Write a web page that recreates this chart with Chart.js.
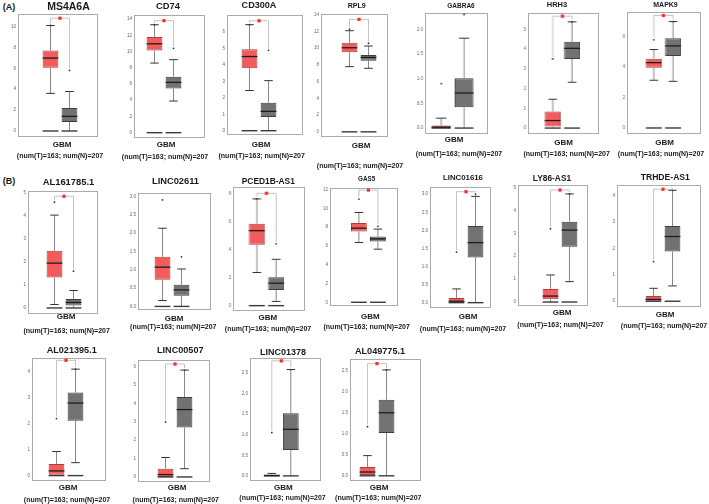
<!DOCTYPE html>
<html>
<head>
<meta charset="utf-8">
<script src="https://cdn.jsdelivr.net/npm/chart.js@4.4.0/dist/chart.umd.min.js"></script>
<style>
body{margin:0;background:#fff;width:709px;height:504px;position:relative;overflow:hidden;font-family:"Liberation Sans",Arial,sans-serif;}
.frame{position:absolute;border:1px solid #ababab;box-sizing:border-box;}
.wrap{position:absolute;}
.txt{position:absolute;white-space:nowrap;transform:translate(-50%,-50%);font-weight:bold;color:#1a1a1a;line-height:1;}
</style>
</head>
<body>
<script>
// gene names, one panel each
const genes = ["MS4A6A","CD74","CD300A","RPL9","GABRA6","HRH3","MAPK9",
  "AL161785.1","LINC02611","PCED1B-AS1","GAS5","LINC01616","LY86-AS1","TRHDE-AS1",
  "AL021395.1","LINC00507","LINC01378","AL049775.1"];

// tumour (T) box stats
const tQ1  = [6.06,10.12,3.81,9.51,0.00,0.08,3.97,1.32,0.73,4.34,7.54,0.00,0.12,0.02,0.03,0.00,0.00,0.02];
const tMed = [6.98,10.95,4.52,10.06,0.02,0.38,4.30,1.95,1.07,5.34,7.90,0.04,0.26,0.07,0.18,0.13,0.01,0.09];
const tQ3  = [7.71,11.79,4.96,10.66,0.05,0.84,4.56,2.49,1.35,5.83,8.44,0.13,0.57,0.20,0.45,0.45,0.03,0.21];
const tLo  = [3.60,8.58,2.45,7.80,0.00,0.00,3.14,0.15,0.16,2.36,6.37,0.00,0.00,0.00,0.00,0.00,0.00,0.00];
const tHi  = [10.1,13.3,6.46,12.1,0.20,1.46,5.16,4.04,2.13,7.60,9.57,0.38,1.18,0.49,0.93,1.06,0.06,0.48];
const tMax = [10.1,13.3,6.46,12.3,0.90,3.50,5.80,4.60,2.90,7.60,11.0,1.40,3.20,1.50,2.20,3.00,1.05,1.17];

// normal (N) box stats
const nQ1  = [0.86,5.45,0.84,8.50,0.42,3.50,4.74,0.11,0.29,1.12,6.47,1.25,2.41,1.88,2.12,2.69,0.63,1.02];
const nMed = [1.40,6.20,1.18,8.90,0.71,4.04,5.40,0.24,0.45,1.60,6.76,1.66,3.14,2.45,2.80,3.67,1.13,1.50];
const nQ3  = [2.19,6.90,1.70,9.19,1.01,4.37,5.90,0.39,0.59,2.02,7.00,2.12,3.51,2.85,3.21,4.36,1.52,1.81];
const nLo  = [0.00,3.90,0.05,7.60,0.00,2.32,3.07,0.00,0.00,0.30,5.66,0.00,0.89,0.58,0.50,0.45,0.00,0.00];
const nHi  = [3.78,9.00,3.05,10.27,1.82,5.38,7.00,0.76,1.02,3.30,7.80,2.94,4.72,4.20,4.11,5.82,2.58,2.52];
const nMax = [5.80,10.4,4.90,10.6,2.30,5.38,7.00,1.60,1.35,4.40,8.10,3.00,4.72,4.20,4.11,5.82,2.58,2.52];

// height of the significance bracket (null = no star)
const starY = [10.8,13.8,6.7,13.46,null,5.67,7.4,4.86,null,8.0,11.96,3.07,4.89,4.24,4.45,6.15,2.79,2.67];

// y axis ranges and tick labels
const yMin = [-0.48,-0.53,-0.2,-0.5,-0.1,-0.25,-0.33,-0.22,-0.07,-0.31,-0.29,-0.12,-0.13,-0.18,-0.17,-0.22,-0.1,-0.1];
const yMax = [11.2,14.5,7.05,14.1,2.33,5.83,7.63,5.09,3.09,8.45,12.18,3.2,5.11,4.4,4.54,6.37,2.86,2.78];
const yTicks = [
  [0,2,4,6,8,10],[0,2,4,6,8,10,12,14],[0,1,2,3,4,5,6],[0,2,4,6,8,10,12,14],[0,0.5,1,1.5,2],
  [0,1,2,3,4,5],[0,2,4,6],[0,1,2,3,4,5],[0,0.5,1,1.5,2,2.5,3],[0,2,4,6,8],[0,2,4,6,8,10,12],
  [0,0.5,1,1.5,2,2.5,3],[0,1,2,3,4,5],[0,1,2,3,4],[0,1,2,3,4],[0,1,2,3,4,5,6],
  [0,0.5,1,1.5,2,2.5],[0,0.5,1,1.5,2,2.5]
];
const groups = ["T","N"];
const sampleText = "(num(T)=163; num(N)=207";

// page layout: frame box, centre of the pair, title spot, label rows
const layout = [
  {f:[18,14,97,136],  cx:62,    ti:[68.5,6,10.5],  g:145,   n:[60,154.5]},
  {f:[134,15,204,137],cx:166,   ti:[168,6,9.4],    g:145.3, n:[165,155.5]},
  {f:[227,15,302,134],cx:261,   ti:[259,6,9.1],    g:145,   n:[261.7,154.5]},
  {f:[321,14,387,136],cx:361,   ti:[356.7,5,7],    g:145.5, n:[360,165]},
  {f:[425,13,487,133],cx:454,w:49,ti:[461,6,6.5],  g:140,   n:[459,153.3]},
  {f:[528,13,598,133],cx:563.7, ti:[557,5,7.5],    g:143,   n:[566.7,152.7]},
  {f:[627,12,700,133],cx:664.7, ti:[665.5,4,7],    g:142.7, n:[661,153.3]},
  {f:[28,191,97,313], cx:66,    ti:[68.5,181.5,9.4],g:317,  n:[66.7,330]},
  {f:[138,193,210,309],cx:174,  ti:[175.5,181.5,9.3],g:319, n:[173.3,326]},
  {f:[233,187,304,310],cx:267.8,ti:[268.3,181,8.4],g:318.3, n:[268,328.3]},
  {f:[330,188,397,305],cx:370.4,ti:[366.7,178.5,6.3],g:317.3,n:[366.7,326]},
  {f:[430,187,490,307],cx:468,  ti:[463,178,7.8],  g:317,   n:[463,328]},
  {f:[518,185,587,305],cx:562,  ti:[552,177.5,8.4],g:313.3, n:[560.5,323.7]},
  {f:[617,185,700,306],cx:665,  ti:[665.3,177,8.6],g:315,   n:[664,324.5]},
  {f:[32,358,105,480], cx:68,   ti:[71.7,351,9.1], g:488.3, n:[67,499.3]},
  {f:[138,360,209,481],cx:177,  ti:[180.3,351,9.1],g:488.3, n:[175.8,499.3]},
  {f:[250,358,320,480],cx:283.3,ti:[283,352,9],    g:488,   n:[282.5,497]},
  {f:[350,359,420,480],cx:379,  ti:[380,352,9.1],  g:488,   n:[378.3,497]}
];

function addText(str, x, y, size, color) {
  const d = document.createElement("div");
  d.className = "txt";
  d.textContent = str;
  d.style.left = x + "px";
  d.style.top = y + "px";
  d.style.fontSize = size + "px";
  if (color) d.style.color = color;
  document.body.appendChild(d);
}

// whiskers, medians, zero lines and the bracket with the red star
const boxExtras = {
  id: "boxExtras",
  afterDatasetsDraw(chart, args, opts) {
    const i = opts.index;
    const ys = chart.scales.y;
    const ctx = chart.ctx;
    const bars = chart.getDatasetMeta(0).data;
    const lo = [tLo[i], nLo[i]], hi = [tHi[i], nHi[i]], med = [tMed[i], nMed[i]];
    const q1 = [tQ1[i], nQ1[i]], q3 = [tQ3[i], nQ3[i]];
    ctx.save();
    bars.forEach((b, k) => {
      const w = b.width, x = b.x;
      // whiskers
      ctx.strokeStyle = "#555";
      ctx.lineWidth = 0.7;
      ctx.beginPath();
      ctx.moveTo(x, ys.getPixelForValue(q3[k]));
      ctx.lineTo(x, ys.getPixelForValue(hi[k]));
      ctx.moveTo(x, ys.getPixelForValue(q1[k]));
      ctx.lineTo(x, ys.getPixelForValue(lo[k]));
      ctx.stroke();
      ctx.lineWidth = 1;
      ctx.strokeStyle = "#333";
      ctx.beginPath();
      ctx.moveTo(x - w * 0.27, ys.getPixelForValue(hi[k]));
      ctx.lineTo(x + w * 0.27, ys.getPixelForValue(hi[k]));
      if (lo[k] > 0.05) {
        ctx.moveTo(x - w * 0.27, ys.getPixelForValue(lo[k]));
        ctx.lineTo(x + w * 0.27, ys.getPixelForValue(lo[k]));
      }
      ctx.stroke();
      // zero line under each group
      ctx.strokeStyle = "#3a3a3a";
      ctx.lineWidth = 1.4;
      ctx.beginPath();
      ctx.moveTo(x - w / 2, ys.getPixelForValue(0));
      ctx.lineTo(x + w / 2, ys.getPixelForValue(0));
      ctx.stroke();
      // median
      ctx.strokeStyle = "#1e1e1e";
      ctx.lineWidth = 1.3;
      ctx.beginPath();
      ctx.moveTo(x - w / 2, ys.getPixelForValue(med[k]));
      ctx.lineTo(x + w / 2, ys.getPixelForValue(med[k]));
      ctx.stroke();
    });
    if (starY[i] !== null) {
      const yb = ys.getPixelForValue(starY[i]);
      const xa = bars[0].x, xb = bars[1].x;
      ctx.strokeStyle = "#b5b5b5";
      ctx.lineWidth = 0.8;
      ctx.beginPath();
      ctx.moveTo(xa, ys.getPixelForValue(tMax[i]) - 2);
      ctx.lineTo(xa, yb);
      ctx.lineTo(xb, yb);
      ctx.lineTo(xb, ys.getPixelForValue(nMax[i]) - 2);
      ctx.stroke();
      ctx.fillStyle = "#ff2a2a";
      ctx.fillRect((xa + xb) / 2 - 1.6, yb - 1.6, 3.2, 3.2);
    }
    ctx.restore();
  }
};

addText("(A)", 9, 7, 9);
addText("(B)", 9, 181, 9);

genes.forEach((gene, i) => {
  const L = layout[i];
  const [l, t, r, b] = L.f;
  const pw = L.w || 42;
  const labelSpace = 14;

  const fr = document.createElement("div");
  fr.className = "frame";
  fr.style.left = l + "px";
  fr.style.top = t + "px";
  fr.style.width = (r - l + 1) + "px";
  fr.style.height = (b - t + 1) + "px";
  document.body.appendChild(fr);

  const wrap = document.createElement("div");
  wrap.className = "wrap";
  const cl = l - labelSpace;
  const axisW = (L.cx - pw / 2) - cl;
  wrap.style.left = cl + "px";
  wrap.style.top = (t - 4) + "px";
  wrap.style.width = (L.cx + pw / 2 - cl) + "px";
  wrap.style.height = (b - t + 8) + "px";
  const cv = document.createElement("canvas");
  wrap.appendChild(cv);
  document.body.appendChild(wrap);

  const fracTicks = yTicks[i].some(v => v % 1 !== 0);

  new Chart(cv, {
    data: {
      labels: groups,
      datasets: [{
        type: "bar",
        data: [[tQ1[i], tQ3[i]], [nQ1[i], nQ3[i]]],
        backgroundColor: ["#f25c5c", "#727272"],
        borderColor: ["#b33a3a", "#3d3d3d"],
        borderWidth: 1,
        borderSkipped: false,
        categoryPercentage: 1,
        barPercentage: 0.83
      }, {
        type: "scatter",
        data: [{x: "T", y: tMax[i]}, {x: "N", y: nMax[i]}],
        pointRadius: 0.9,
        pointBackgroundColor: "#333",
        pointBorderWidth: 0
      }]
    },
    options: {
      responsive: true,
      maintainAspectRatio: false,
      animation: false,
      layout: {padding: {top: 4, bottom: 4, left: 0, right: 0}},
      plugins: {
        legend: {display: false},
        tooltip: {enabled: false},
        boxExtras: {index: i}
      },
      scales: {
        x: {type: "category", display: false, offset: true},
        y: {
          type: "linear",
          min: yMin[i],
          max: yMax[i],
          grid: {display: false, drawTicks: false},
          border: {display: false},
          afterBuildTicks: s => { s.ticks = yTicks[i].map(v => ({value: v})); },
          afterFit: s => { s.width = axisW; s.paddingTop = 0; s.paddingBottom = 0; },
          ticks: {
            padding: L.cx - pw / 2 - l + 2,
            color: "#666",
            font: {size: 4.5, family: "Liberation Sans"},
            callback: v => fracTicks ? v.toFixed(1) : String(v)
          }
        }
      }
    },
    plugins: [boxExtras]
  });

  addText(gene, L.ti[0], L.ti[1], L.ti[2]);
  addText("GBM", L.cx, L.g, 8);
  addText(sampleText, L.n[0], L.n[1], 7);
});
</script>
</body>
</html>
